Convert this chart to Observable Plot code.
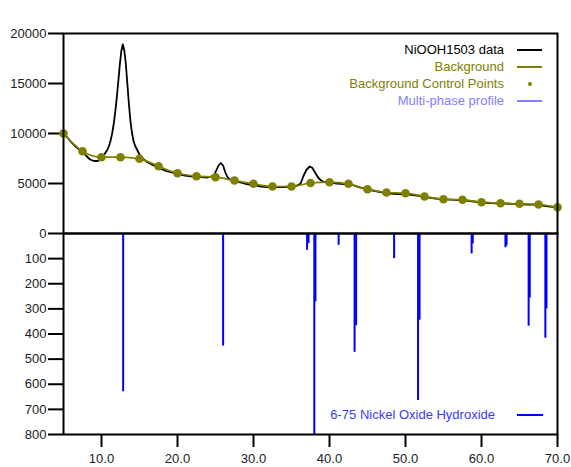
<!DOCTYPE html>
<html>
<head>
<meta charset="utf-8">
<script src="https://cdn.jsdelivr.net/npm/d3@7"></script>
<script src="https://cdn.jsdelivr.net/npm/@observablehq/plot@0.6"></script>
<style>
  html, body { margin: 0; padding: 0; background: white; }
  #chart { position: relative; width: 571px; height: 467px; font-family: "Liberation Sans", Arial, sans-serif; }
  #chart svg { position: absolute; left: 0; }
  #chart svg g[aria-label*="axis"] path, #chart svg g[aria-label*="axis"] line { stroke-width: 2px; stroke: black; }
  .leg { position: absolute; font-size: 13px; white-space: nowrap; line-height: 1; }
</style>
</head>
<body>
<div id="chart"></div>
<script>
// Measured pattern (2-theta, counts)
const dataX = [5, 5.5, 6, 6.5, 7, 7.5, 8, 8.5, 9, 9.5, 10, 10.4, 10.8, 11.0, 11.2, 11.4, 11.6, 11.8, 12.0, 12.2, 12.4, 12.6, 12.8, 13.0, 13.2, 13.4, 13.6, 13.8, 14.0, 14.2, 14.4, 14.6, 14.8, 15.0, 15.5, 16, 16.5, 17, 17.5, 18, 18.5, 19, 20, 21, 22, 23, 24, 24.8, 25.1, 25.4, 25.7, 26.0, 26.3, 26.6, 27, 28, 29, 30, 31, 32, 33, 34, 35, 35.8, 36.2, 36.6, 37.0, 37.4, 37.7, 38.1, 38.5, 38.9, 39.3, 40, 41, 42, 43, 44, 45, 46, 47, 48, 49, 50, 51, 52, 53, 54, 55, 56, 57, 58, 59, 60, 61, 62, 63, 64, 65, 66, 67, 68, 69, 70];
const dataY = [9950, 9600, 9150, 8750, 8450, 8150, 7750, 7400, 7250, 7250, 7400, 7950, 8400, 8800, 9300, 10000, 10900, 12100, 13500, 15100, 16800, 18200, 18900, 18300, 17000, 15000, 13000, 11300, 10100, 9300, 8800, 8500, 8200, 7900, 7450, 7150, 6950, 6750, 6550, 6400, 6250, 6150, 5950, 5800, 5700, 5650, 5600, 5800, 6300, 6800, 7050, 6800, 6100, 5600, 5350, 5150, 4950, 4850, 4700, 4650, 4650, 4650, 4700, 4800, 5000, 5800, 6400, 6700, 6600, 6100, 5600, 5300, 5150, 5100, 5000, 4950, 4850, 4600, 4400, 4250, 4100, 4000, 3950, 3950, 3850, 3750, 3600, 3500, 3420, 3380, 3350, 3300, 3200, 3100, 3050, 3020, 3000, 2970, 2950, 2900, 2880, 2800, 2700, 2620];

// Background control points
const bgX = [5, 7.5, 10, 12.5, 15, 17.5, 20, 22.5, 25, 27.5, 30, 32.5, 35, 37.5, 40, 42.5, 45, 47.5, 50, 52.5, 55, 57.5, 60, 62.5, 65, 67.5, 70];
const bgY = [10000, 8230, 7630, 7630, 7470, 6730, 6030, 5730, 5630, 5300, 4970, 4700, 4700, 5050, 5130, 4970, 4430, 4100, 4030, 3700, 3430, 3370, 3130, 3030, 2970, 2900, 2630];

// Reference pattern 6-75 Nickel Oxide Hydroxide (2-theta, intensity)
const stickX = [12.85, 26.0, 37.05, 37.25, 38.0, 38.15, 41.2, 43.3, 43.5, 48.5, 51.65, 51.85, 58.7, 58.85, 63.15, 63.3, 66.2, 66.35, 68.4, 68.55];
const stickI = [630, 448, 67, 40, 800, 272, 47, 473, 367, 100, 665, 345, 81, 41, 57, 49, 369, 257, 417, 300];

const yTicksTop = [0, 5000, 10000, 15000, 20000];
const yTicksBottom = [100, 200, 300, 400, 500, 600, 700, 800];
const xTicks = [10, 20, 30, 40, 50, 60, 70];

const measured = dataX.map((x, i) => ({x, y: dataY[i]}));
const background = bgX.map((x, i) => ({x, y: bgY[i]}));
const sticks = stickX.map((x, i) => ({x, i: stickI[i]}));

const OLIVE = "#808000";
const baseStyle = {fontFamily: "Liberation Sans, Arial, sans-serif", fontSize: "13px", overflow: "visible", background: "transparent", color: "#222"};

const topPlot = Plot.plot({
  width: 571, height: 233,
  marginLeft: 63, marginRight: 14, marginTop: 33, marginBottom: 0,
  style: baseStyle,
  x: {domain: [5, 70], axis: null},
  y: {domain: [0, 20000], ticks: yTicksTop, tickSize: 15, tickPadding: 2, tickFormat: d => String(d), label: null},
  marks: [
    Plot.line(measured, {x: "x", y: "y", stroke: "black", strokeWidth: 1.8}),
    Plot.line(background, {x: "x", y: "y", stroke: OLIVE, strokeWidth: 1.7, curve: "monotone-x"}),
    Plot.dot(background, {x: "x", y: "y", r: 4.3, fill: OLIVE, stroke: "none"}),
    Plot.frame({stroke: "black", strokeWidth: 2})
  ]
});
topPlot.style.top = "0px";

const bottomPlot = Plot.plot({
  width: 571, height: 234,
  marginLeft: 63, marginRight: 14, marginTop: 0, marginBottom: 33,
  style: baseStyle,
  x: {domain: [5, 70], ticks: xTicks, tickSize: 13, tickPadding: 6, tickFormat: d3.format(".1f"), label: null},
  y: {domain: [0, 800], reverse: true, ticks: yTicksBottom, tickSize: 15, tickPadding: 2, tickFormat: d => String(d), label: null},
  marks: [
    Plot.ruleX(sticks, {x: "x", y1: 0, y2: "i", stroke: "#0000ff", strokeWidth: 2}),
    Plot.frame({stroke: "black", strokeWidth: 2})
  ]
});
bottomPlot.style.top = "233px";

const chart = document.getElementById("chart");
chart.appendChild(topPlot);
chart.appendChild(bottomPlot);

// Legends (overlay)
const legendRows = [
  {label: "NiOOH1503 data", color: "black", sym: "line", cy: 50},
  {label: "Background", color: OLIVE, sym: "line", cy: 67},
  {label: "Background Control Points", color: OLIVE, sym: "dot", cy: 84},
  {label: "Multi-phase profile", color: "#8080ff", sym: "line", cy: 101}
];
function addLegend(row, textRight, symX1, symX2, symColor) {
  const t = document.createElement("div");
  t.className = "leg";
  t.textContent = row.label;
  t.style.color = row.color;
  t.style.right = (571 - textRight) + "px";
  t.style.top = (row.cy - 7) + "px";
  chart.appendChild(t);
  const s = document.createElement("div");
  s.style.position = "absolute";
  if (row.sym === "line") {
    s.style.left = symX1 + "px"; s.style.width = (symX2 - symX1) + "px";
    s.style.top = (row.cy - 1) + "px"; s.style.height = "2px";
    s.style.background = symColor || row.color;
  } else {
    const cx = (symX1 + symX2) / 2;
    s.style.left = (cx - 2) + "px"; s.style.top = (row.cy - 2) + "px";
    s.style.width = "4px"; s.style.height = "4px"; s.style.borderRadius = "2px";
    s.style.background = row.color;
  }
  chart.appendChild(s);
}
legendRows.forEach(r => addLegend(r, 504, 517, 542));
addLegend({label: "6-75 Nickel Oxide Hydroxide", color: "#3a3aff", sym: "line", cy: 415}, 495, 517, 543, "#0000ff");
</script>
</body>
</html>
